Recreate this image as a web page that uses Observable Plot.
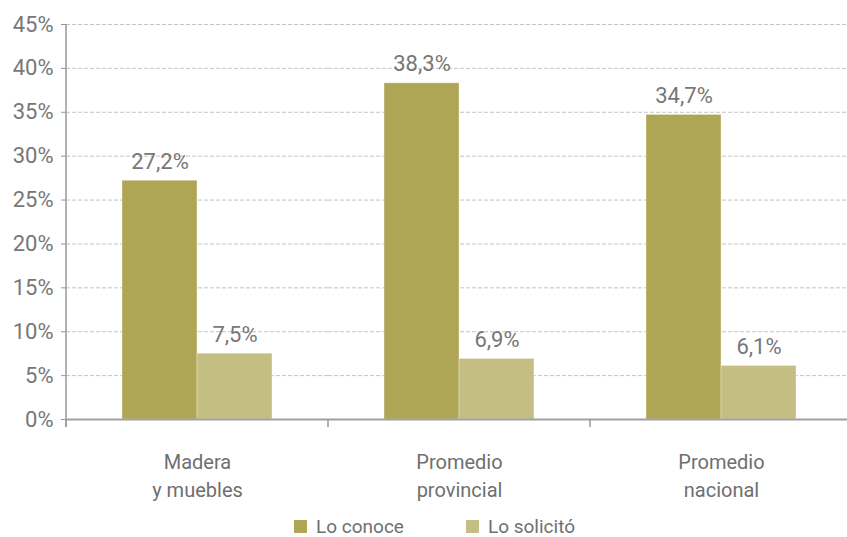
<!DOCTYPE html>
<html><head><meta charset="utf-8">
<script src="https://cdn.jsdelivr.net/npm/d3@7"></script>
<script src="https://cdn.jsdelivr.net/npm/@observablehq/plot@0.6"></script>
<style>
body{margin:0;background:#fff;font-family:Roboto,sans-serif;}
#legend{display:flex;gap:62px;padding-left:294px;padding-top:3px;height:26px;align-items:center;font-size:19px;color:#6f6f6f;}
.item{display:flex;align-items:center;gap:9px}
.sw{width:13px;height:13px;display:inline-block}
</style></head><body>
<div id="chart"></div><div id="legend"></div>
<script>
const categories = ["Madera\ny muebles", "Promedio\nprovincial", "Promedio\nnacional"];
const series = ["Lo conoce", "Lo solicitó"];
const loConoce = [27.2, 38.3, 34.7];
const loSolicito = [7.5, 6.9, 6.1];
const colors = ["#aea654", "#c4be82"];
const yTicks = [0, 5, 10, 15, 20, 25, 30, 35, 40, 45];

const data = categories.flatMap((c, i) => [
  {cat: c, series: series[0], value: loConoce[i]},
  {cat: c, series: series[1], value: loSolicito[i]}
]);
const fmt = v => v.toFixed(1).replace(".", ",") + "%";

const chart = Plot.plot({
  width: 847, height: 510,
  marginLeft: 65, marginRight: -5, marginTop: 24, marginBottom: 91,
  style: {fontFamily: "Roboto, sans-serif", fontSize: "20px", color: "#777", background: "white"},
  fx: {domain: categories, padding: 0, label: null},
  x: {domain: series, paddingInner: 0, paddingOuter: 0.73, axis: null},
  y: {domain: [0, 45], label: null},
  color: {domain: series, range: colors},
  marks: [
    Plot.gridY(yTicks.filter(d => d > 0), {stroke: "#c4c4c4", strokeOpacity: 1, strokeDasharray: "4,2"}),
    Plot.barY(data, {fx: "cat", x: "series", y: "value", fill: "series", stroke: "white", strokeOpacity: 0.35, strokeWidth: 1}),
    Plot.ruleY([0], {stroke: "#a0a0a0", strokeWidth: 2}),
    Plot.text(data, {fx: "cat", x: "series", y: "value", text: d => fmt(d.value), dy: -12, lineAnchor: "bottom", fill: "#777", fontSize: 22}),
    Plot.axisY(yTicks, {tickFormat: d => d + "%", tickSize: 5, tickPadding: 8, stroke: "#999", fill: "#777", fontSize: 22, label: null}),
    Plot.axisFx({anchor: "bottom", tickSize: 0, tickPadding: 30, lineHeight: 1.4, fill: "#6f6f6f", fontSize: 20, label: null})
  ]
});
document.getElementById("chart").appendChild(chart);

// axis line and category boundary ticks from the scales
const ys = chart.scale("y"), fxs = chart.scale("fx");
const y0 = ys.apply(0);
const svg = d3.select(chart);
const bounds = categories.map(c => fxs.apply(c));
bounds.push(fxs.apply(categories[categories.length - 1]) + fxs.step);
svg.append("g").attr("stroke", "#999").attr("stroke-width", 1.5)
  .selectAll("line").data(bounds).join("line")
  .attr("x1", d => d).attr("x2", d => d).attr("y1", y0).attr("y2", y0 + 8);
svg.append("line").attr("stroke", "#999").attr("stroke-width", 1.5)
  .attr("x1", bounds[0]).attr("x2", bounds[0])
  .attr("y1", ys.apply(45)).attr("y2", y0 + 8);

// legend
const leg = d3.select("#legend");
series.forEach((s, i) => {
  const it = leg.append("div").attr("class", "item");
  it.append("span").attr("class", "sw").style("background", colors[i]);
  it.append("span").text(s);
});
</script></body></html>
